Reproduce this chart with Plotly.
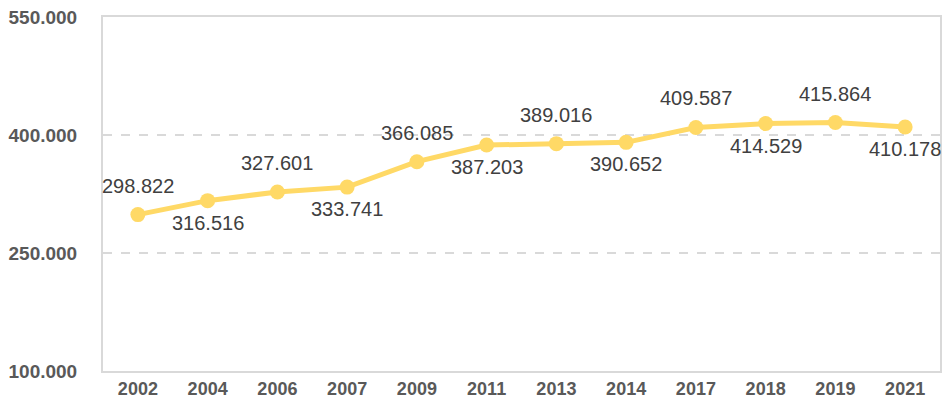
import plotly.graph_objects as go

years = ["2002", "2004", "2006", "2007", "2009", "2011", "2013", "2014", "2017", "2018", "2019", "2021"]
values = [298822, 316516, 327601, 333741, 366085, 387203, 389016, 390652, 409587, 414529, 415864, 410178]
label_above = [True, False] * 6
y_ticks = [100000, 250000, 400000, 550000]

labels = [f"{v:,}".replace(",", ".") for v in values]

fig = go.Figure()
fig.add_trace(go.Scatter(
    x=years, y=values, mode="lines+markers",
    line=dict(color="#FFD966", width=5),
    marker=dict(color="#FFD966", size=15),
    cliponaxis=False, hoverinfo="skip",
))

for i, (v, lab, up) in enumerate(zip(values, labels, label_above)):
    fig.add_annotation(
        x=i, y=v, xref="x", yref="y", text=lab, showarrow=False,
        yshift=29 if up else -22,
        font=dict(family="Liberation Sans, Arial", size=20, color="#404040"),
    )

fig.update_layout(
    width=942, height=407,
    margin=dict(l=103, r=2, t=17, b=36),
    paper_bgcolor="white", plot_bgcolor="white",
    separators=",.",
    showlegend=False,
    xaxis=dict(
        type="category", range=[-0.5, 11.5], automargin=False,
        showgrid=False, showline=True, linecolor="#D9D9D9", linewidth=2, mirror=True,
        ticks="", ticklabelstandoff=0,
        tickfont=dict(family="Liberation Sans, Arial", size=18, color="#595959", weight="bold"),
    ),
    yaxis=dict(
        range=[100000, 550000], tickvals=y_ticks, tickformat=",.0f", automargin=False,
        showgrid=True, gridcolor="#D9D9D9", griddash="dash", gridwidth=1.5,
        showline=True, linecolor="#D9D9D9", linewidth=2, mirror=True,
        zeroline=False, ticks="", ticklabelstandoff=20,
        tickfont=dict(family="Liberation Sans, Arial", size=19, color="#595959", weight="bold"),
    ),
)

fig.write_html("out.html", config={"displayModeBar": False},
               post_script="document.body.style.margin='0';")
